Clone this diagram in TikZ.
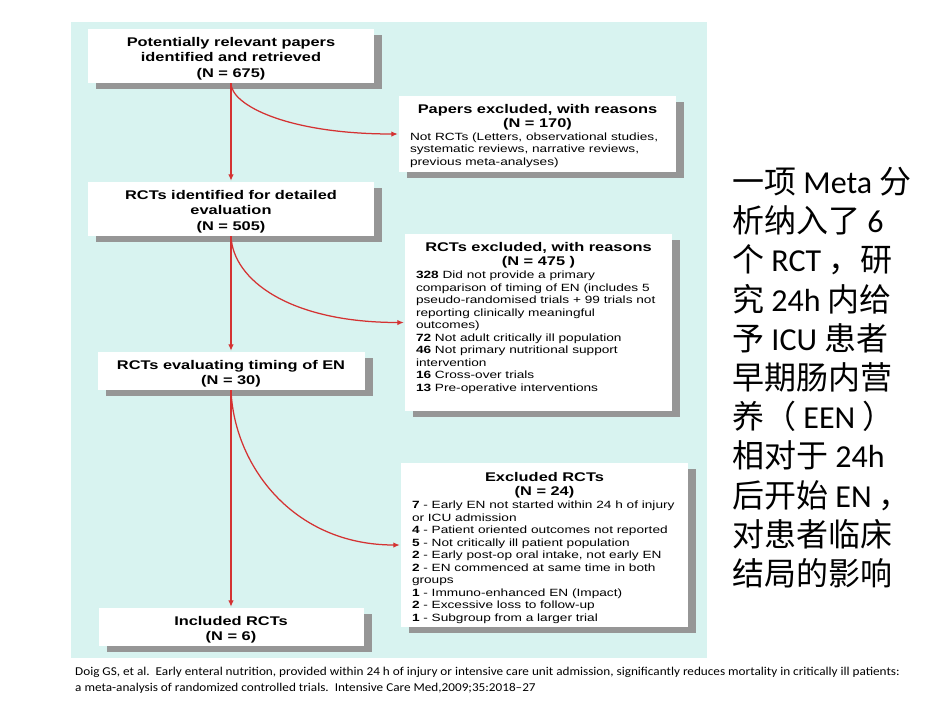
\documentclass[tikz,border=0pt]{standalone}
\usepackage{fontspec}
\setmainfont{Liberation Sans}
\newfontfamily\boxfont[FakeStretch=1.3]{Liberation Sans}
\newfontfamily\cjk{Noto Sans CJK SC}
\newfontfamily\lat{Carlito}
\newfontfamily\citefont[FakeStretch=1.1]{Carlito}
\newcommand\Zh[1]{{\cjk #1}}
\newcommand\lowr{\rule{0pt}{14.5pt}}
\usetikzlibrary{arrows.meta,shadows,calc}
\definecolor{bgcyan}{RGB}{216,243,240}
\definecolor{arrred}{RGB}{212,50,50}
\definecolor{shadowgray}{RGB}{150,150,150}
\begin{document}
\begin{tikzpicture}[x=1pt,y=-1pt,
  boxn/.style={fill=white, draw=none, inner sep=0pt,
    drop shadow={shadow xshift=8pt, shadow yshift=-6pt, fill=shadowgray, opacity=1}},
  titletext/.style={font=\boxfont\bfseries\fontsize{12.6}{15.5}\selectfont, align=center},
  extitle/.style={font=\boxfont\bfseries\fontsize{12.6}{14.3}\selectfont, align=center, inner sep=0pt, anchor=north},
  bodytext/.style={font=\boxfont\fontsize{10.5}{12.5}\selectfont, align=left, inner sep=0pt, anchor=north west},
  flow/.style={draw=arrred, line width=1.25pt, -{Latex[length=6.5pt,width=5.5pt]}, shorten >=1pt},
]
\path[use as bounding box] (0,0) rectangle (950,713);
\fill[white] (0,0) rectangle (950,713);
\fill[bgcyan] (71,22) rectangle (707,658);

% main column
\node[boxn, titletext, minimum width=286pt, minimum height=54pt] (b1) at (231,56)
  {\lowr Potentially relevant papers\\identified and retrieved\\(N = 675)};
\node[boxn, titletext, minimum width=286pt, minimum height=54pt] (b2) at (231,209)
  {\lowr RCTs identified for detailed\\evaluation\\(N = 505)};
\node[boxn, titletext, minimum width=267pt, minimum height=38pt] (b3) at (231,371)
  {\lowr RCTs evaluating timing of EN\\(N = 30)};
\node[boxn, titletext, minimum width=265pt, minimum height=38pt] (b4) at (231,627)
  {\lowr Included RCTs\\(N = 6)};

% exclusion boxes
\node[boxn, minimum width=277pt, minimum height=76pt] (e1) at (537.5,134) {};
\node[extitle] (e1t) at ($(e1.north)+(0,8)$) {Papers excluded, with reasons\\(N = 170)};
\node[bodytext] (e1b) at ($(e1.north west)+(11,36.5)$)
  {Not RCTs (Letters, observational studies,\\systematic reviews, narrative reviews,\\previous meta-analyses)};

\node[boxn, minimum width=267pt, minimum height=177pt] (e2) at (538.5,322.5) {};
\node[extitle] (e2t) at ($(e2.north)+(0,8)$) {RCTs excluded, with reasons\\(N = 475 )};
\node[bodytext] (e2b) at ($(e2.north west)+(11,37)$)
  {\textbf{328} Did not provide a primary\\
   comparison of timing of EN (includes 5\\
   pseudo-randomised trials + 99 trials not\\
   reporting clinically meaningful\\
   outcomes)\\
   \textbf{72} Not adult critically ill population\\
   \textbf{46} Not primary nutritional support\\
   intervention\\
   \textbf{16} Cross-over trials\\
   \textbf{13} Pre-operative interventions};

\node[boxn, minimum width=287pt, minimum height=164pt] (e3) at (544.5,545) {};
\node[extitle] (e3t) at ($(e3.north)+(0,9)$) {Excluded RCTs\\(N = 24)};
\node[bodytext] (e3b) at ($(e3.north west)+(11,38)$)
  {\textbf{7} - Early EN not started within 24 h of injury\\
   or ICU admission\\
   \textbf{4} - Patient oriented outcomes not reported\\
   \textbf{5} - Not critically ill patient population\\
   \textbf{2} - Early post-op oral intake, not early EN\\
   \textbf{2} - EN commenced at same time in both\\
   groups\\
   \textbf{1} - Immuno-enhanced EN (Impact)\\
   \textbf{2} - Excessive loss to follow-up\\
   \textbf{1} - Subgroup from a larger trial};

% connectors
\draw[flow] (b1.south) -- (b2.north);
\draw[flow] (b2.south) -- (b3.north);
\draw[flow] (b3.south) -- (b4.north);
\draw[flow] (b1.south) .. controls +(0,22) and +(-111,0) .. (e1.west);
\draw[flow] (b2.south) .. controls +(2,44) and +(-115,0) .. (e2.west);
\draw[flow] (b3.south) .. controls +(3,75) and +(-108,0) .. (e3.west);

% Chinese text
\node[align=left, anchor=north west, inner sep=0pt, font=\lat\fontsize{32}{39.2}\selectfont] (zh) at (732,167)
  {\Zh{一项} Meta \Zh{分}\\
   \Zh{析纳入了} 6\\
   \Zh{个} RCT \Zh{，研}\\
   \Zh{究} 24h \Zh{内给}\\
   \Zh{予} ICU \Zh{患者}\\
   \Zh{早期肠内营}\\
   \Zh{养（} EEN \Zh{）}\\
   \Zh{相对于} 24h\\
   \Zh{后开始} EN \Zh{，}\\
   \Zh{对患者临床}\\
   \Zh{结局的影响}};

% citation
\node[anchor=north west, align=left, inner sep=0pt, font=\citefont\fontsize{12}{16}\selectfont] (cite) at (75,667)
  {Doig GS, et al.\ \ Early enteral nutrition, provided within 24 h of injury or intensive care unit admission, significantly reduces mortality in critically ill patients:\\
   a meta-analysis of randomized controlled trials.\ \ Intensive Care Med,2009;35:2018–27};
\end{tikzpicture}
\end{document}
